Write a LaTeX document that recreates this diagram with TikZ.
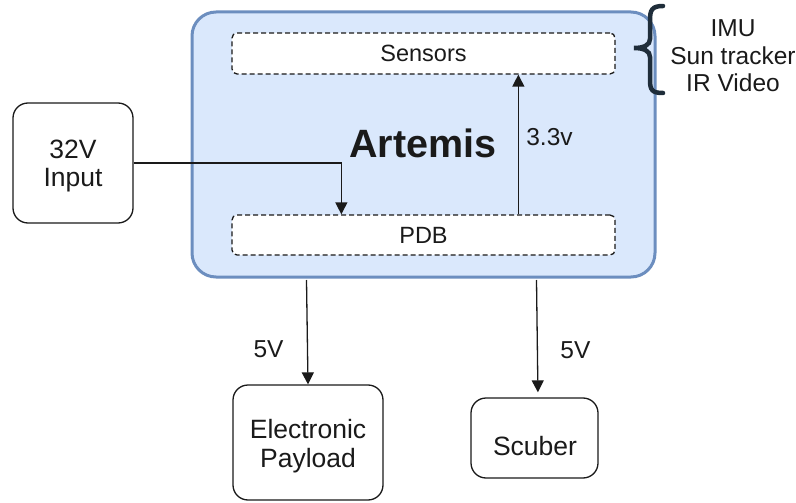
\documentclass[tikz,border=0pt]{standalone}
\usepackage{fontspec}
\setmainfont{Liberation Sans}
\usetikzlibrary{arrows.meta,calc}
\definecolor{artfill}{HTML}{DAE8FC}
\definecolor{artline}{HTML}{6C8EBF}
\definecolor{ink}{HTML}{1A1A1A}
\definecolor{bracecol}{HTML}{1F2D3A}
\tikzset{
  fs/.style={font=\fontsize{#1}{#1}\selectfont},
  mainbox/.style={draw=artline, fill=artfill, line width=3pt, rounded corners=24pt},
  innerbox/.style={draw=ink, fill=white, line width=1.3pt, dash pattern=on 5pt off 3pt,
    rounded corners=5pt, fs=23.5, text=ink},
  unitbox/.style={draw=ink, fill=white, line width=1.3pt, rounded corners=15pt,
    align=center, text=ink, fs=26.5},
  lbl/.style={text=ink, fs=24.5},
  arr/.style={draw=ink, line width=1.3pt, -{Triangle[length=12pt,width=12pt]}},
}
\begin{document}
\begin{tikzpicture}[x=1pt,y=-1pt]
\useasboundingbox (0,0) rectangle (796,503);

% Artemis board with its two inner blocks
\node[mainbox, minimum width=463pt, minimum height=265pt] (art) at (423.5,144.5) {};
\node[innerbox, minimum width=383pt, minimum height=41pt] (sen) at (423.5,53.5) {Sensors};
\node[innerbox, minimum width=383pt, minimum height=40pt] (pdb) at (423.5,235) {PDB};
\node[text=ink, font=\fontsize{39.5}{39.5}\selectfont\bfseries] (artlbl) at (423,143) {Artemis};

% external units
\node[unitbox, minimum width=120pt, minimum height=120pt, inner sep=0pt] (in) at (73,163) {};
\node[text=ink, fs=26.5, align=center, inner sep=0pt] (intxt) at (73,166)
  {32V\\[2pt]Input};
\node[unitbox, minimum width=150pt, minimum height=115pt, inner sep=0pt] (ep) at (308,442.5) {};
\node[text=ink, fs=26.5, align=center, inner sep=0pt] (eptxt) at (308,446)
  {Electronic\\[3pt]Payload};
\node[unitbox, minimum width=127pt, minimum height=80pt, inner sep=0pt] (scb) at (534.5,438) {};
\node[text=ink, fs=26.5, inner sep=0pt] (scbtxt) at (535,446) {Scuber};

% sensor list with its brace
\node[lbl, align=center, inner sep=0pt] (sl) at (733,56)
  {IMU\\[3pt]Sun tracker\\[3pt]IR Video};
\draw[bracecol, line width=4.5pt, line cap=round]
  (663,6) .. controls (652,6) and (650,10) .. (650,20) -- (650,39)
  .. controls (650,45) and (644,48) .. (634,48)
  .. controls (644,48) and (650,51) .. (650,57) -- (650,80)
  .. controls (650,90) and (652,93) .. (663,93);

% power connections
\draw[arr] (in.east) -| ($(pdb.north west)+(110,0)$);
\draw[arr] ($(pdb.north west)+(287,0)$) -- ($(sen.south west)+(287,0)$)
  node[lbl, pos=0.55, right=4pt] (v33) {3.3v};
\draw[arr] ($(art.south west)+(116,1.5)$) -- (ep.north)
  node[lbl, pos=0.66, left=20pt] (v5a) {5V};
\draw[arr, shorten >=5pt] ($(art.south west)+(346,1.5)$) -- ($(scb.north)+(3.5,0)$)
  node[lbl, pos=0.6, right=19pt] (v5b) {5V};
\end{tikzpicture}
\end{document}
